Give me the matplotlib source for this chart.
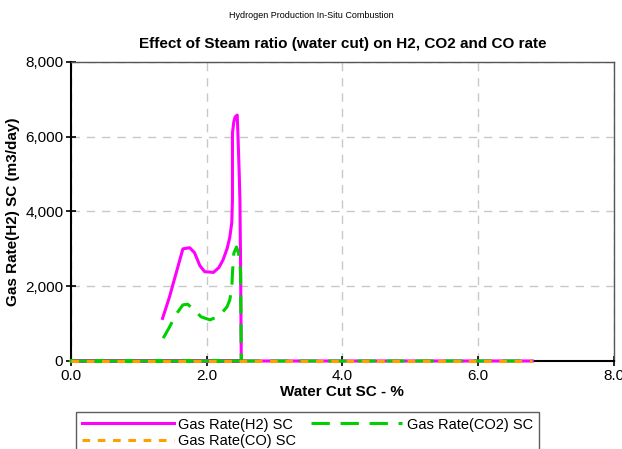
import matplotlib.pyplot as plt
from matplotlib.ticker import FuncFormatter

plt.rcParams['font.family'] = ['Liberation Sans', 'DejaVu Sans']

# water cut (%) and gas rates (m3/day)
wc_h2 = [1.35, 1.45, 1.55, 1.65, 1.75, 1.82, 1.90, 1.97, 2.10, 2.18, 2.24, 2.30, 2.34, 2.37, 2.38,
         2.38, 2.40, 2.42, 2.45, 2.46, 2.48, 2.49, 2.50, 2.51, 0.0, 6.8]
h2 = [1140, 1700, 2350, 3000, 3030, 2900, 2550, 2390, 2370, 2500, 2700, 3000, 3300, 3700, 4300,
      6100, 6400, 6530, 6580, 6100, 5000, 4300, 2520, 0, 0, 0]

wc_co2 = [1.36, 1.45, 1.55, 1.65, 1.72, 1.78, 1.85, 1.92, 2.05, 2.15, 2.24, 2.30, 2.34, 2.37, 2.38,
          2.40, 2.44, 2.47, 2.49, 2.50, 2.51, 0.0, 6.8]
co2 = [610, 900, 1250, 1500, 1520, 1420, 1300, 1180, 1100, 1180, 1320, 1450, 1630, 1950, 2350,
       2880, 3050, 2880, 2600, 2345, 0, 0, 0]

wc_co = [0.0, 6.8]
co = [0, 0]


def main():
    fig = plt.figure(figsize=(6.22, 4.49), dpi=100)
    ax = fig.add_axes([0.114, 0.196, 0.873, 0.666])

    l1, = ax.plot(wc_h2, h2, color='#ff00ff', linewidth=2.2, label='Gas Rate(H2) SC',
                  zorder=3, clip_on=False)
    l2, = ax.plot(wc_co2, co2, color='#00d000', linewidth=2.2, dashes=(6, 3.5),
                  label='Gas Rate(CO2) SC', zorder=4, clip_on=False)
    l3, = ax.plot(wc_co, co, color='#ffa000', linewidth=2.2, dashes=(2.5, 2.5),
                  label='Gas Rate(CO) SC', zorder=5, clip_on=False)

    ax.set_xlim(0, 8)
    ax.set_ylim(0, 8000)
    ax.set_xticks([0, 2, 4, 6, 8])
    ax.set_yticks([0, 2000, 4000, 6000, 8000])
    ax.xaxis.set_major_formatter(FuncFormatter(lambda v, p: f'{v:.1f}'))
    ax.yaxis.set_major_formatter(FuncFormatter(lambda v, p: f'{v:,.0f}'))
    ax.tick_params(direction='inout', length=7, width=1.2, labelsize=11, pad=2)
    ax.grid(True, color='#c8c8c8', linestyle=(0, (6, 5)), linewidth=1)

    for s in ['left', 'bottom']:
        ax.spines[s].set_linewidth(1.5)
        ax.spines[s].set_color('black')
    for s in ['top', 'right']:
        ax.spines[s].set_linewidth(1.0)
        ax.spines[s].set_color('#555555')

    ax.set_xlabel('Water Cut SC - %', fontsize=11, fontweight='bold', labelpad=2)
    ax.set_ylabel('Gas Rate(H2) SC (m3/day)', fontsize=11, fontweight='bold', labelpad=4)
    ax.set_title('Effect of Steam ratio (water cut) on H2, CO2 and CO rate',
                 fontsize=11, fontweight='bold', pad=10)
    fig.text(0.5, 0.96, 'Hydrogen Production In-Situ Combustion', ha='center', fontsize=6.5)

    leg = fig.legend([l1, l3, l2], [l1.get_label(), l3.get_label(), l2.get_label()],
                     loc='upper left', bbox_to_anchor=(0.122, 0.083), ncol=2,
                     fontsize=10.5, frameon=True, fancybox=False, edgecolor='#333333',
                     handlelength=6.3, handletextpad=0.3, columnspacing=1.0,
                     borderaxespad=0, borderpad=0.4, labelspacing=0.2)
    leg.get_frame().set_linewidth(1.0)

    fig.savefig('out.png', dpi=100)


if __name__ == '__main__':
    main()
